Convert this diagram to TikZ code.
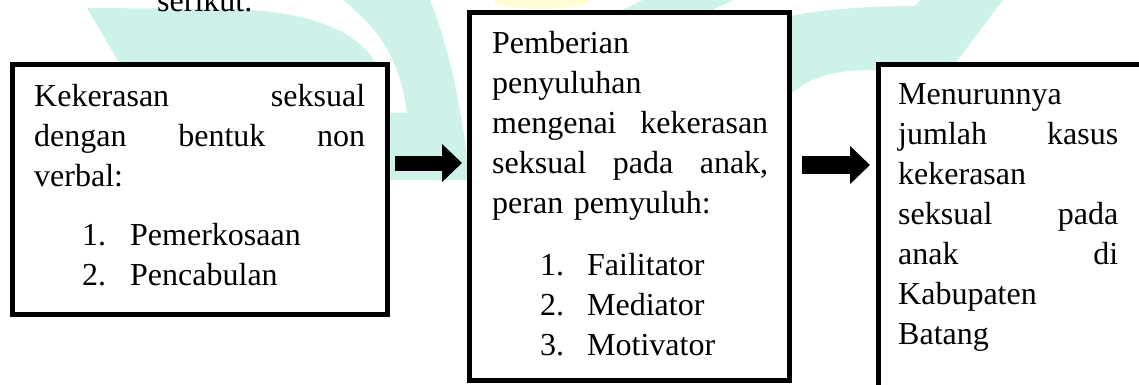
\documentclass[tikz,border=0pt]{standalone}
\usepackage{fontspec}
\setmainfont{Liberation Serif}
\usetikzlibrary{arrows.meta,calc}
\definecolor{wmteal}{RGB}{206,241,234}
\definecolor{wmyellow}{RGB}{254,253,214}

\begin{document}
\begin{tikzpicture}[x=1pt,y=-1pt,
        kotak/.style={draw,line width=5pt,fill=white,anchor=north west,inner sep=0pt,outer sep=0pt},
        isi/.style={anchor=north west,inner sep=0pt,text width=#1,align=left,font=\fontsize{32}{40}\selectfont},
        daftar/.style={anchor=north west,inner sep=0pt,align=left,font=\fontsize{32}{40}\selectfont},
        panah/.style={line width=#1,-{Triangle[length=20pt,width=37pt]}}]
        \useasboundingbox (0,0) rectangle (1139,385);
        \clip (0,0) rectangle (1139,385);

        \fill[wmteal] (87,8) -- (233,9) .. controls (320,12) and (360,35) .. (376,64) -- (120,64) -- cycle;
        \fill[wmteal] (343,0) -- (430,0) .. controls (450,50) and (462,110) .. (470,180) -- (380,180) -- (380,113) -- (407,113) .. controls (400,60) and (380,30) .. (343,0) -- cycle;
        \fill[wmteal] (643,0) -- (733,0) -- (700,16) -- (610,16) -- cycle;
        \fill[wmteal] (790,16) .. controls (830,8) and (880,6) .. (915,6) -- (920,0) -- (1003,0) -- (950,70) -- (870,70) .. controls (830,70) and (805,80) .. (790,95) -- cycle;
        \fill[wmyellow] (541,0) ellipse [x radius=48pt, y radius=9pt];
        \node[anchor=base west,inner sep=0pt,font=\fontsize{32}{40}\selectfont] (serikut) at (157,12) {serikut.};

        \node[kotak,minimum width=374.5pt,minimum height=250pt] (kekerasan) at (12.5,64.5) {};
        \node[kotak,minimum width=320.5pt,minimum height=367.5pt] (penyuluhan) at (469,12.5) {};
        \node[kotak,minimum width=320pt,minimum height=400pt] (menurun) at (878,64.5) {};

        \node[isi=331pt] (kekerasan-isi) at ([shift={(21.5,13.5)}]kekerasan.north west)
            {\strut Kekerasan \hfill seksual\\ dengan \hfill bentuk \hfill non\\ verbal:};
        \node[daftar] (kekerasan-daftar) at ([shift={(69.5,152.5)}]kekerasan.north west)
            {\strut\makebox[48pt][l]{1.}Pemerkosaan\\ \makebox[48pt][l]{2.}Pencabulan};

        \node[isi=276pt] (penyuluhan-isi) at ([shift={(23,12.8)}]penyuluhan.north west)
            {\strut Pemberian\\ penyuluhan\\ mengenai \hfill kekerasan\\ seksual \hfill pada \hfill anak,\\ peran pemyuluh:};
        \node[daftar] (penyuluhan-daftar) at ([shift={(71,234.5)}]penyuluhan.north west)
            {\strut\makebox[47pt][l]{1.}Failitator\\ \makebox[47pt][l]{2.}Mediator\\ \makebox[47pt][l]{3.}Motivator};

        \node[isi=220pt] (menurun-isi) at ([shift={(20,11.5)}]menurun.north west)
            {\strut Menurunnya\\ jumlah \hfill kasus\\ kekerasan\\ seksual \hfill pada\\ anak \hfill di\\ Kabupaten\\ Batang};

        \coordinate (jalur1) at (0,163);
        \coordinate (jalur2) at (0,165);
        \draw[panah=15pt] ($(kekerasan.east |- jalur1)+(8,0)$) -- ($(penyuluhan.west |- jalur1)+(-7,0)$);
        \draw[panah=18pt] ($(penyuluhan.east |- jalur2)+(12.5,0)$) -- ($(menurun.west |- jalur2)+(-8,0)$);
    \end{tikzpicture}
\end{document}
